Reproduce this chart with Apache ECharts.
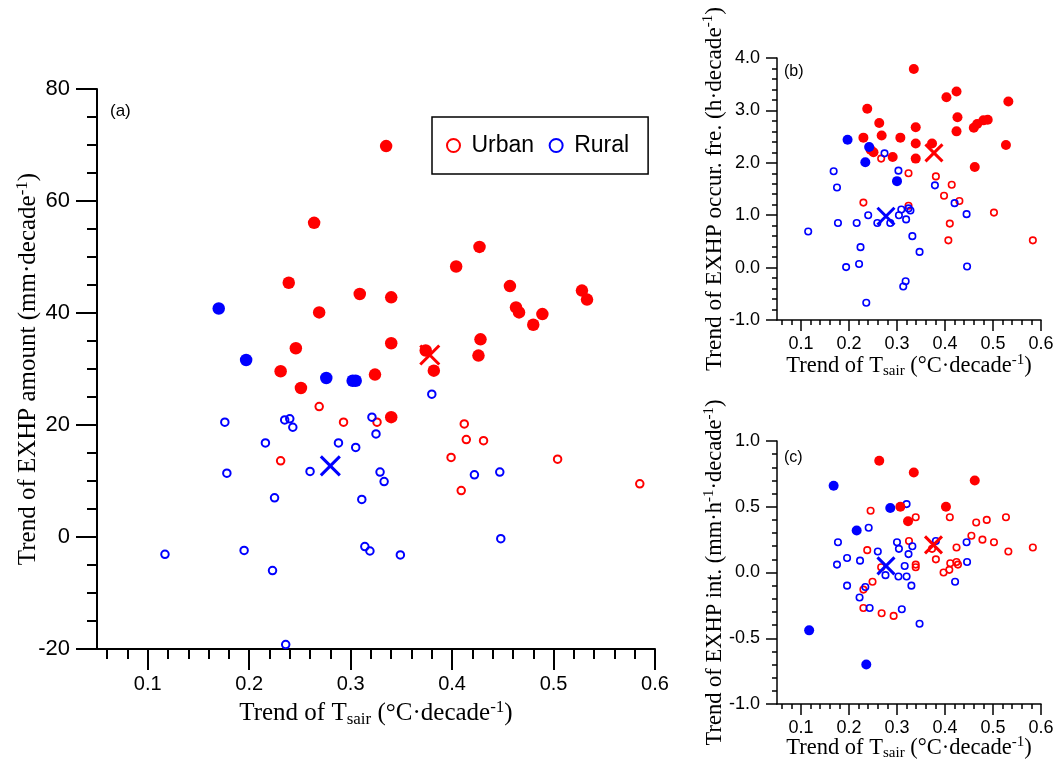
<!DOCTYPE html>
<html>
<head>
<meta charset="utf-8">
<script src="https://cdn.jsdelivr.net/npm/echarts@6/dist/echarts.min.js"></script>
<style>
  html, body { margin: 0; padding: 0; background: #fff; }
  #chart { width: 1060px; height: 766px; }
</style>
</head>
<body>
<div id="chart"></div>
<script>
// x = trend of Tsair, y = trend of EXHP quantity; Sig = filled, Non = open ring
const aUrbanSig = [[0.264,56.1],[0.239,45.4],[0.309,43.4],[0.269,40.1],[0.246,33.7],[0.231,29.6],[0.324,29.0],[0.335,69.8],[0.427,51.8],[0.404,48.3],[0.457,44.8],[0.528,44.0],[0.533,42.4],[0.340,42.8],[0.463,41.0],[0.466,40.1],[0.489,39.8],[0.480,37.9],[0.340,34.6],[0.428,35.3],[0.426,32.4],[0.374,33.3],[0.382,29.7],[0.251,26.6],[0.340,21.4]];
const aUrbanNon = [[0.269,23.3],[0.293,20.5],[0.326,20.5],[0.231,13.6],[0.412,20.2],[0.414,17.4],[0.431,17.2],[0.399,14.2],[0.504,13.9],[0.585,9.5],[0.409,8.3]];
const aRuralSig = [[0.170,40.8],[0.197,31.6],[0.276,28.4],[0.302,27.9],[0.305,27.9]];
const aRuralNon = [[0.176,20.5],[0.235,20.9],[0.240,21.1],[0.243,19.6],[0.321,21.4],[0.325,18.4],[0.216,16.8],[0.288,16.8],[0.305,16.0],[0.178,11.4],[0.260,11.7],[0.329,11.6],[0.333,9.9],[0.225,7.0],[0.311,6.7],[0.117,-3.1],[0.195,-2.4],[0.223,-6.0],[0.314,-1.7],[0.319,-2.5],[0.349,-3.2],[0.236,-19.2],[0.380,25.5],[0.422,11.1],[0.447,11.6],[0.448,-0.3]];
const aUrbanMean = [[0.378,32.5]];
const aRuralMean = [[0.280,12.7]];

const bUrbanSig = [[0.335,3.79],[0.238,3.03],[0.403,3.25],[0.424,3.36],[0.532,3.17],[0.263,2.76],[0.426,2.87],[0.339,2.68],[0.480,2.81],[0.489,2.82],[0.467,2.74],[0.460,2.67],[0.424,2.60],[0.230,2.48],[0.268,2.52],[0.307,2.48],[0.245,2.25],[0.251,2.20],[0.339,2.37],[0.373,2.37],[0.291,2.11],[0.339,2.08],[0.462,1.92],[0.527,2.34]];
const bUrbanNon = [[0.267,2.08],[0.324,1.80],[0.381,1.74],[0.414,1.58],[0.398,1.37],[0.230,1.24],[0.430,1.27],[0.324,1.18],[0.502,1.05],[0.410,0.84],[0.407,0.52],[0.583,0.52]];
const bRuralSig = [[0.197,2.44],[0.242,2.30],[0.234,2.01],[0.300,1.65]];
const bRuralNon = [[0.274,2.18],[0.168,1.84],[0.303,1.85],[0.175,1.53],[0.379,1.57],[0.420,1.23],[0.445,1.02],[0.115,0.69],[0.177,0.85],[0.216,0.85],[0.240,1.00],[0.259,0.85],[0.286,0.85],[0.304,1.00],[0.309,1.11],[0.319,0.92],[0.324,1.13],[0.328,1.09],[0.332,0.60],[0.224,0.39],[0.347,0.30],[0.221,0.07],[0.194,0.01],[0.446,0.02],[0.318,-0.26],[0.313,-0.36],[0.236,-0.67]];
const bUrbanMean = [[0.377,2.19]];
const bRuralMean = [[0.277,0.98]];

const cUrbanSig = [[0.263,0.85],[0.335,0.76],[0.462,0.70],[0.307,0.50],[0.402,0.50],[0.323,0.39]];
const cUrbanNon = [[0.245,0.47],[0.339,0.42],[0.410,0.42],[0.465,0.38],[0.487,0.40],[0.527,0.42],[0.325,0.24],[0.455,0.28],[0.478,0.25],[0.502,0.23],[0.583,0.19],[0.532,0.16],[0.424,0.19],[0.373,0.18],[0.381,0.10],[0.238,0.17],[0.411,0.07],[0.424,0.08],[0.427,0.06],[0.339,0.06],[0.339,0.04],[0.267,0.04],[0.397,0.00],[0.409,0.02],[0.249,-0.07],[0.230,-0.13],[0.230,-0.27],[0.268,-0.31],[0.293,-0.33]];
const cRuralSig = [[0.168,0.66],[0.286,0.49],[0.216,0.32],[0.117,-0.44],[0.236,-0.70]];
const cRuralNon = [[0.320,0.52],[0.241,0.34],[0.177,0.23],[0.300,0.23],[0.304,0.18],[0.332,0.20],[0.260,0.16],[0.324,0.14],[0.381,0.24],[0.445,0.23],[0.446,0.08],[0.196,0.11],[0.223,0.09],[0.175,0.06],[0.316,0.05],[0.276,-0.02],[0.303,-0.03],[0.320,-0.03],[0.421,-0.07],[0.196,-0.10],[0.330,-0.10],[0.234,-0.11],[0.222,-0.19],[0.243,-0.27],[0.310,-0.28],[0.347,-0.39]];
const cUrbanMean = [[0.376,0.21]];
const cRuralMean = [[0.277,0.05]];

const xTicks = [0.1, 0.2, 0.3, 0.4, 0.5, 0.6];
const xMinorTicks = [0.06,0.08,0.12,0.14,0.16,0.18,0.22,0.24,0.26,0.28,0.32,0.34,0.36,0.38,0.42,0.44,0.46,0.48,0.52,0.54,0.56,0.58];
const panelTags = ['(a)', '(b)', '(c)'];
const yNames = [
  'Trend of EXHP amount (mm·decade{sup|-1})',
  'Trend of EXHP occur. fre. (h·decade{sup|-1})',
  'Trend of EXHP int. (mm·h{sup|-1}·decade{sup|-1})'
];
const xName = 'Trend of T{sub|sair} (°C·decade{sup|-1})';

const RED = '#ff0000';
const BLUE = '#0000ff';
const SANS = '"Liberation Sans", Arial, sans-serif';
const SERIF = '"Liberation Serif", "Times New Roman", serif';

const panels = [
  { data: [aUrbanNon, aRuralNon, aUrbanSig, aRuralSig, aUrbanMean, aRuralMean],
    grid: { left: 97, top: 89, width: 558, height: 560 },
    y: { min: -20, max: 80, interval: 20, minor: 4, digits: 0 },
    font: 20, yFont: 22, nameFont: 25, yNameFont: 25, lw: 2, major: 21, minorLen: 10, xMargin: 25, yMargin: 27,
    xGap: 50, yGap: 54, dot: 12.5, ring: 7.5, ringW: 2, cross: 19, tag: { left: 110, top: 103, size: 17 } },
  { data: [bUrbanNon, bRuralNon, bUrbanSig, bRuralSig, bUrbanMean, bRuralMean],
    grid: { left: 777, top: 58, width: 264, height: 262 },
    y: { min: -1, max: 4, interval: 1, minor: 5, digits: 1 },
    font: 18, yFont: 18, nameFont: 22.5, yNameFont: 23.3, lw: 1.5, major: 11, minorLen: 5, xMargin: 15, yMargin: 17,
    xGap: 33, yGap: 49, dot: 10, ring: 6.5, ringW: 1.6, cross: 17, tag: { left: 784, top: 64, size: 16 } },
  { data: [cUrbanNon, cRuralNon, cUrbanSig, cRuralSig, cUrbanMean, cRuralMean],
    grid: { left: 777, top: 441, width: 264, height: 263 },
    y: { min: -1, max: 1, interval: 0.5, minor: 5, digits: 1 },
    font: 18, yFont: 18, nameFont: 22.5, yNameFont: 22.5, lw: 1.5, major: 11, minorLen: 5, xMargin: 15, yMargin: 17,
    xGap: 31, yGap: 49, dot: 10, ring: 6.5, ringW: 1.6, cross: 17, tag: { left: 784, top: 450, size: 16 } }
];

function nameStyle(fs) {
  const lh = Math.round(fs * 1.17);
  const small = Math.round(fs * 0.66);
  return {
    fontFamily: SERIF, fontSize: fs, color: '#000', lineHeight: lh,
    rich: {
      sub: { fontFamily: SERIF, fontSize: small, lineHeight: small, verticalAlign: 'bottom', color: '#000' },
      sup: { fontFamily: SERIF, fontSize: small, lineHeight: small, verticalAlign: 'top', color: '#000' }
    }
  };
}

const grids = [], xAxes = [], yAxes = [], series = [], graphics = [];
const lineCol = '#000';

panels.forEach((p, i) => {
  grids.push(Object.assign({ containLabel: false, outerBoundsMode: 'none' }, p.grid));
  const line = { color: lineCol, width: p.lw };
  xAxes[i] = {
    gridIndex: i, type: 'value', min: 0.05, max: 0.6, position: 'bottom',
    name: xName, nameLocation: 'middle', nameGap: p.xGap, nameMoveOverlap: false, nameTextStyle: nameStyle(p.nameFont),
    axisLine: { show: true, onZero: false, lineStyle: line },
    axisTick: { show: true, customValues: xTicks, length: p.major, lineStyle: line },
    axisLabel: { customValues: xTicks, formatter: v => v.toFixed(1), fontFamily: SANS, fontSize: p.font, color: '#000', margin: p.xMargin },
    splitLine: { show: false }
  };
  // second axis only carries the minor ticks
  xAxes[i + 3] = {
    gridIndex: i, type: 'value', min: 0.05, max: 0.6, position: 'bottom', offset: 0,
    axisLine: { show: false, onZero: false },
    axisTick: { show: true, customValues: xMinorTicks, length: p.minorLen, lineStyle: line },
    axisLabel: { show: false },
    splitLine: { show: false }
  };
  yAxes.push({
    gridIndex: i, type: 'value', min: p.y.min, max: p.y.max, interval: p.y.interval,
    name: yNames[i], nameLocation: 'middle', nameGap: p.yGap, nameMoveOverlap: false, nameTextStyle: nameStyle(p.yNameFont),
    axisLine: { show: true, onZero: false, lineStyle: line },
    axisTick: { show: true, length: p.major, lineStyle: line },
    minorTick: { show: true, splitNumber: p.y.minor, length: p.minorLen, lineStyle: line },
    axisLabel: { formatter: v => v.toFixed(p.y.digits), fontFamily: SANS, fontSize: p.yFont, color: '#000', margin: p.yMargin },
    splitLine: { show: false }
  });

  const [uNon, rNon, uSig, rSig, uMean, rMean] = p.data;
  const base = { type: 'scatter', xAxisIndex: i, yAxisIndex: i, silent: true, animation: false };
  const ring = (d, col, name) => Object.assign({}, base, {
    name: name, data: d, symbol: 'circle', symbolSize: p.ring,
    itemStyle: { color: 'transparent', borderColor: col, borderWidth: p.ringW, opacity: 1 }
  });
  const dot = (d, col, name) => Object.assign({}, base, {
    name: name, data: d, symbol: 'circle', symbolSize: p.dot,
    itemStyle: { color: col, borderWidth: 0, opacity: 1 }
  });
  const cross = (d, col, name) => Object.assign({}, base, {
    name: name, data: d, symbol: 'path://M0,0L10,10M10,0L0,10', symbolSize: p.cross,
    itemStyle: { color: 'transparent', borderColor: col, borderWidth: 3, opacity: 1 }, z: 5
  });
  series.push(
    ring(uNon, RED, i === 0 ? 'Urban' : 'u-open-' + i),
    ring(rNon, BLUE, i === 0 ? 'Rural' : 'r-open-' + i),
    dot(uSig, RED, 'u-sig-' + i),
    dot(rSig, BLUE, 'r-sig-' + i),
    cross(uMean, RED, 'u-mean-' + i),
    cross(rMean, BLUE, 'r-mean-' + i)
  );

  graphics.push({
    type: 'text', left: p.tag.left, top: p.tag.top,
    style: { text: panelTags[i], fontFamily: SANS, fontSize: p.tag.size, fill: '#000' }
  });
});

const chart = echarts.init(document.getElementById('chart'));
chart.setOption({
  animation: false,
  backgroundColor: '#fff',
  grid: grids,
  xAxis: xAxes,
  yAxis: yAxes,
  series: series,
  graphic: graphics,
  legend: {
    left: 432, top: 117,
    orient: 'horizontal',
    selectedMode: false,
    borderColor: '#000', borderWidth: 1.5,
    padding: [17, 19, 17, 14],
    itemGap: 14.5, itemWidth: 26, itemHeight: 13,
    icon: 'circle',
    textStyle: { fontFamily: SANS, fontSize: 23, color: '#000' },
    data: [
      { name: 'Urban', itemStyle: { color: 'transparent', borderColor: RED, borderWidth: 2, opacity: 1 } },
      { name: 'Rural', itemStyle: { color: 'transparent', borderColor: BLUE, borderWidth: 2, opacity: 1 } }
    ]
  }
});
window.addEventListener('resize', () => chart.resize());
</script>
</body>
</html>
